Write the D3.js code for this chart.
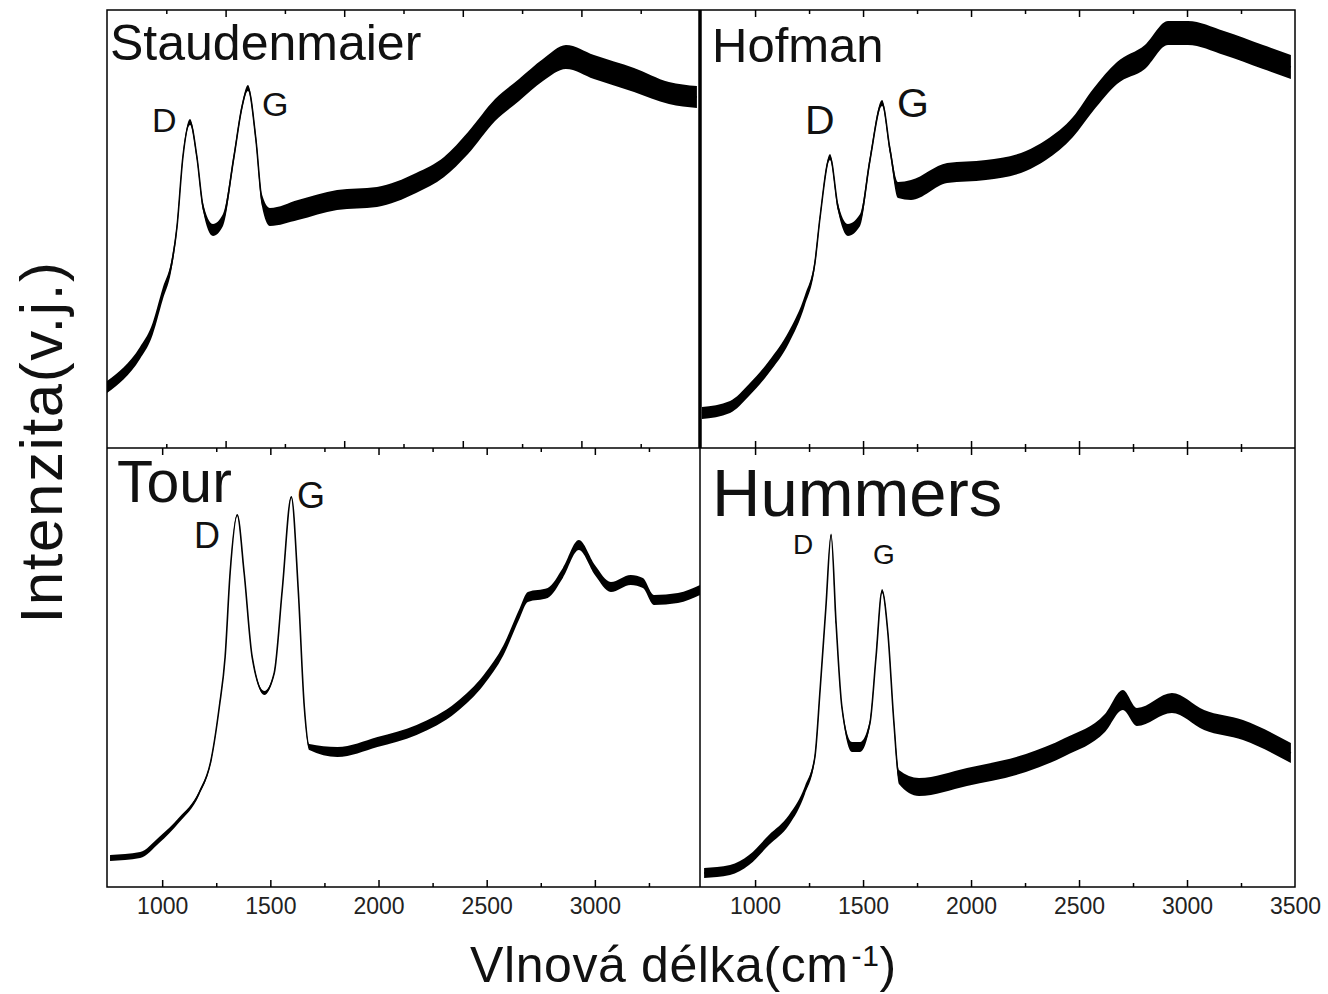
<!DOCTYPE html>
<html>
<head>
<meta charset="utf-8">
<script src="https://cdn.jsdelivr.net/npm/d3@7"></script>
<style>
body { margin: 0; background: #fff; }
text { font-family: Arial, "Liberation Sans", sans-serif; }
</style>
</head>
<body>
<script>
// Raman spectra, intensity in arbitrary units (v.j.)
// W = wavenumber (cm-1), I = band centre, N = half width of the noise band
var stauW = [1000,1139,1186,1236,1270,1295,1320,1350,1379,1405,1447,1489,1535,1569,1594,1628,1653,1687,1805,1970,2138,2303,2421,2522,2636,2737,2838,2935,3053,3222,3369,3487];
var stauI = [61,95,115,155,181,221,291,326,291,241,218,228,291,341,360,308,248,231,238,248,251,265,281,305,338,358,378,391,381,368,355,351];
var stauN = [6,6,6,6,5,4,3,3,3,4,6,6,4,3,3,4,6,9,10,10,10,10,10,11,11,11,11,12,12,12,11,11];

var hofW = [754,884,972,1064,1157,1231,1277,1301,1347,1384,1430,1486,1532,1588,1625,1662,1722,1889,2069,2254,2347,2472,2565,2676,2805,2912,3004,3171,3352,3481];
var hofI = [35,41,58,81,111,148,185,231,291,241,218,228,288,345,298,258,258,275,278,287,298,321,348,375,391,415,415,405,391,381];
var hofN = [6,6,6,6,6,5,4,3,3,4,6,6,4,3,4,8,10,10,10,10,10,10,11,11,12,12,12,12,12,12];

var tourW = [759,898,986,1078,1171,1226,1264,1291,1314,1347,1379,1416,1472,1518,1555,1597,1629,1657,1680,1810,1995,2176,2361,2486,2578,2653,2690,2782,2852,2926,3000,3074,3166,3222,3273,3384,3486];
var tourI = [29,32,47,67,94,127,180,230,314,372,314,230,194,214,297,390,297,180,140,135,145,157,180,207,237,274,290,294,314,342,317,300,307,304,287,289,297];
var tourN = [3,3,3,2.5,2,1.5,1,1,1,1,1,1,2,1,1,1,1,1,3,5,5,5,5,5,5,5,5,5,5,5,5,5,5,5,5,5,5];

var humW = [764,884,972,1064,1157,1231,1277,1301,1328,1352,1375,1402,1449,1486,1532,1560,1588,1615,1643,1666,1759,1981,2254,2435,2620,2703,2768,2930,3079,3259,3481];
var humI = [14,17,27,47,67,97,130,197,280,352,264,180,140,140,164,230,296,254,164,110,100,110,124,140,164,187,170,184,167,157,134];
var humN = [5,5,5,5,5,4,3,2,1.5,1.5,1.5,2,5,5,3,2,2,2,3,7,9,9,9,9,9,10,9,10,10,10,10];

// axis ticks
var majorTicks = [1000,1500,2000,2500,3000,3500];
var minorTicks = [1250,1750,2250,2750,3250];
var tickLabelsLeft = [1000,1500,2000,2500,3000];
var tickLabelsRight = [1000,1500,2000,2500,3000,3500];

var panelNames = ["Staudenmaier","Hofman","Tour","Hummers"];
var xTitle = "Vlnová délka(cm";
var yTitle = "Intenzita(v.j.)";

function drawChart()
{
var svg = d3.select("body")
	.append("svg")
	.attr("width", 1328)
	.attr("height", 994);

// frame
var fLeft = 107, fMid = 700, fRight = 1295, fTop = 10, fHmid = 448, fBottom = 887;

var panels = [
	{name: panelNames[0], w: stauW, i: stauI, n: stauN, x0: fLeft, x1: fMid, y0: fTop, y1: fHmid, dom: [1000, 3500], labels: null,
	 title: {x: 110, y: 60, size: 50}, D: {x: 152, y: 132, size: 34}, G: {x: 262, y: 116, size: 34}},
	{name: panelNames[1], w: hofW, i: hofI, n: hofN, x0: fMid, x1: fRight, y0: fTop, y1: fHmid, dom: [745, 3500], labels: null,
	 title: {x: 712, y: 62, size: 49}, D: {x: 805, y: 134, size: 41}, G: {x: 897, y: 117, size: 41}},
	{name: panelNames[2], w: tourW, i: tourI, n: tourN, x0: fLeft, x1: fMid, y0: fHmid, y1: fBottom, dom: [745, 3486], labels: tickLabelsLeft,
	 title: {x: 117, y: 502, size: 59}, D: {x: 194, y: 548, size: 36}, G: {x: 297, y: 508, size: 36}},
	{name: panelNames[3], w: humW, i: humI, n: humN, x0: fMid, x1: fRight, y0: fHmid, y1: fBottom, dom: [745, 3500], labels: tickLabelsRight,
	 title: {x: 712, y: 516, size: 67}, D: {x: 793, y: 554, size: 28}, G: {x: 873, y: 564, size: 28}}
];

panels.forEach(function(p, k) {
	var x = d3.scaleLinear().domain(p.dom).range([p.x0, p.x1]);
	var y = d3.scaleLinear().domain([0, p.y1 - p.y0]).range([p.y1, p.y0]);
	var pts = p.w.map(function(d, j) { return {w: d, i: p.i[j], n: p.n[j]}; });

	svg.append("clipPath").attr("id", "clip" + k)
		.append("rect")
		.attr("x", p.x0).attr("y", p.y0)
		.attr("width", p.x1 - p.x0).attr("height", p.y1 - p.y0);

	var g = svg.append("g").attr("clip-path", "url(#clip" + k + ")");

	// noise band
	var band = d3.area()
		.curve(d3.curveMonotoneX)
		.x(function(d) { return x(d.w); })
		.y0(function(d) { return y(d.i - d.n); })
		.y1(function(d) { return y(d.i + d.n); });
	g.append("path").datum(pts)
		.attr("d", band)
		.attr("fill", "#000");

	// centre line
	var line = d3.line()
		.curve(d3.curveMonotoneX)
		.x(function(d) { return x(d.w); })
		.y(function(d) { return y(d.i); });
	g.append("path").datum(pts)
		.attr("d", line)
		.attr("fill", "none")
		.attr("stroke", "#000")
		.attr("stroke-width", 1.6);

	// inward ticks, bottom and top
	var tickVals = majorTicks.filter(function(t) { return t > p.dom[0] && t < p.dom[1]; });
	var minorVals = minorTicks.filter(function(t) { return t > p.dom[0] && t < p.dom[1]; });
	[[d3.axisBottom, p.y1], [d3.axisTop, p.y0]].forEach(function(a) {
		var gMaj = svg.append("g").attr("transform", "translate(0," + a[1] + ")")
			.call(a[0](x).tickValues(tickVals).tickSize(-7).tickFormat(""));
		var gMin = svg.append("g").attr("transform", "translate(0," + a[1] + ")")
			.call(a[0](x).tickValues(minorVals).tickSize(-4).tickFormat(""));
		[gMaj, gMin].forEach(function(gg) {
			gg.select(".domain").remove();
			gg.selectAll("line").attr("stroke", "#000").attr("stroke-width", 1.5);
		});
	});

	// tick labels on the bottom row
	if (p.labels) {
		var gl = svg.append("g").attr("transform", "translate(0," + p.y1 + ")")
			.call(d3.axisBottom(x).tickValues(p.labels).tickSize(0).tickPadding(11).tickFormat(d3.format("d")));
		gl.select(".domain").remove();
		gl.selectAll("text")
			.attr("font-size", 23)
			.attr("font-family", "Arial, 'Liberation Sans', sans-serif")
			.attr("fill", "#222");
	}

	// panel name and peak labels
	svg.append("text")
		.attr("x", p.title.x).attr("y", p.title.y)
		.attr("font-size", p.title.size)
		.attr("fill", "#111")
		.text(p.name);
	svg.append("text")
		.attr("x", p.D.x).attr("y", p.D.y)
		.attr("font-size", p.D.size)
		.attr("fill", "#111")
		.text("D");
	svg.append("text")
		.attr("x", p.G.x).attr("y", p.G.y)
		.attr("font-size", p.G.size)
		.attr("fill", "#111")
		.text("G");
});

// frame and dividers
svg.append("rect")
	.attr("x", fLeft).attr("y", fTop)
	.attr("width", fRight - fLeft).attr("height", fBottom - fTop)
	.attr("fill", "none").attr("stroke", "#000").attr("stroke-width", 1.5);
svg.append("line")
	.attr("x1", fLeft).attr("x2", fRight).attr("y1", fHmid).attr("y2", fHmid)
	.attr("stroke", "#000").attr("stroke-width", 1.5);
svg.append("line")
	.attr("x1", fMid).attr("x2", fMid).attr("y1", fTop).attr("y2", fHmid)
	.attr("stroke", "#000").attr("stroke-width", 3.5);
svg.append("line")
	.attr("x1", fMid).attr("x2", fMid).attr("y1", fHmid).attr("y2", fBottom)
	.attr("stroke", "#000").attr("stroke-width", 1.5);

// axis titles
var xt = svg.append("text")
	.attr("x", 470).attr("y", 982)
	.attr("font-size", 50)
	.attr("letter-spacing", 0.6)
	.attr("fill", "#111");
xt.append("tspan").text(xTitle);
xt.append("tspan").attr("dx", 3).attr("dy", -16).attr("font-size", 30).text("-1");
xt.append("tspan").attr("dy", 16).text(")");

svg.append("text")
	.attr("transform", "translate(62,442) rotate(-90)")
	.attr("text-anchor", "middle")
	.attr("font-size", 60)
	.attr("letter-spacing", 1.6)
	.attr("fill", "#111")
	.text(yTitle);
}

drawChart();
</script>
</body>
</html>
